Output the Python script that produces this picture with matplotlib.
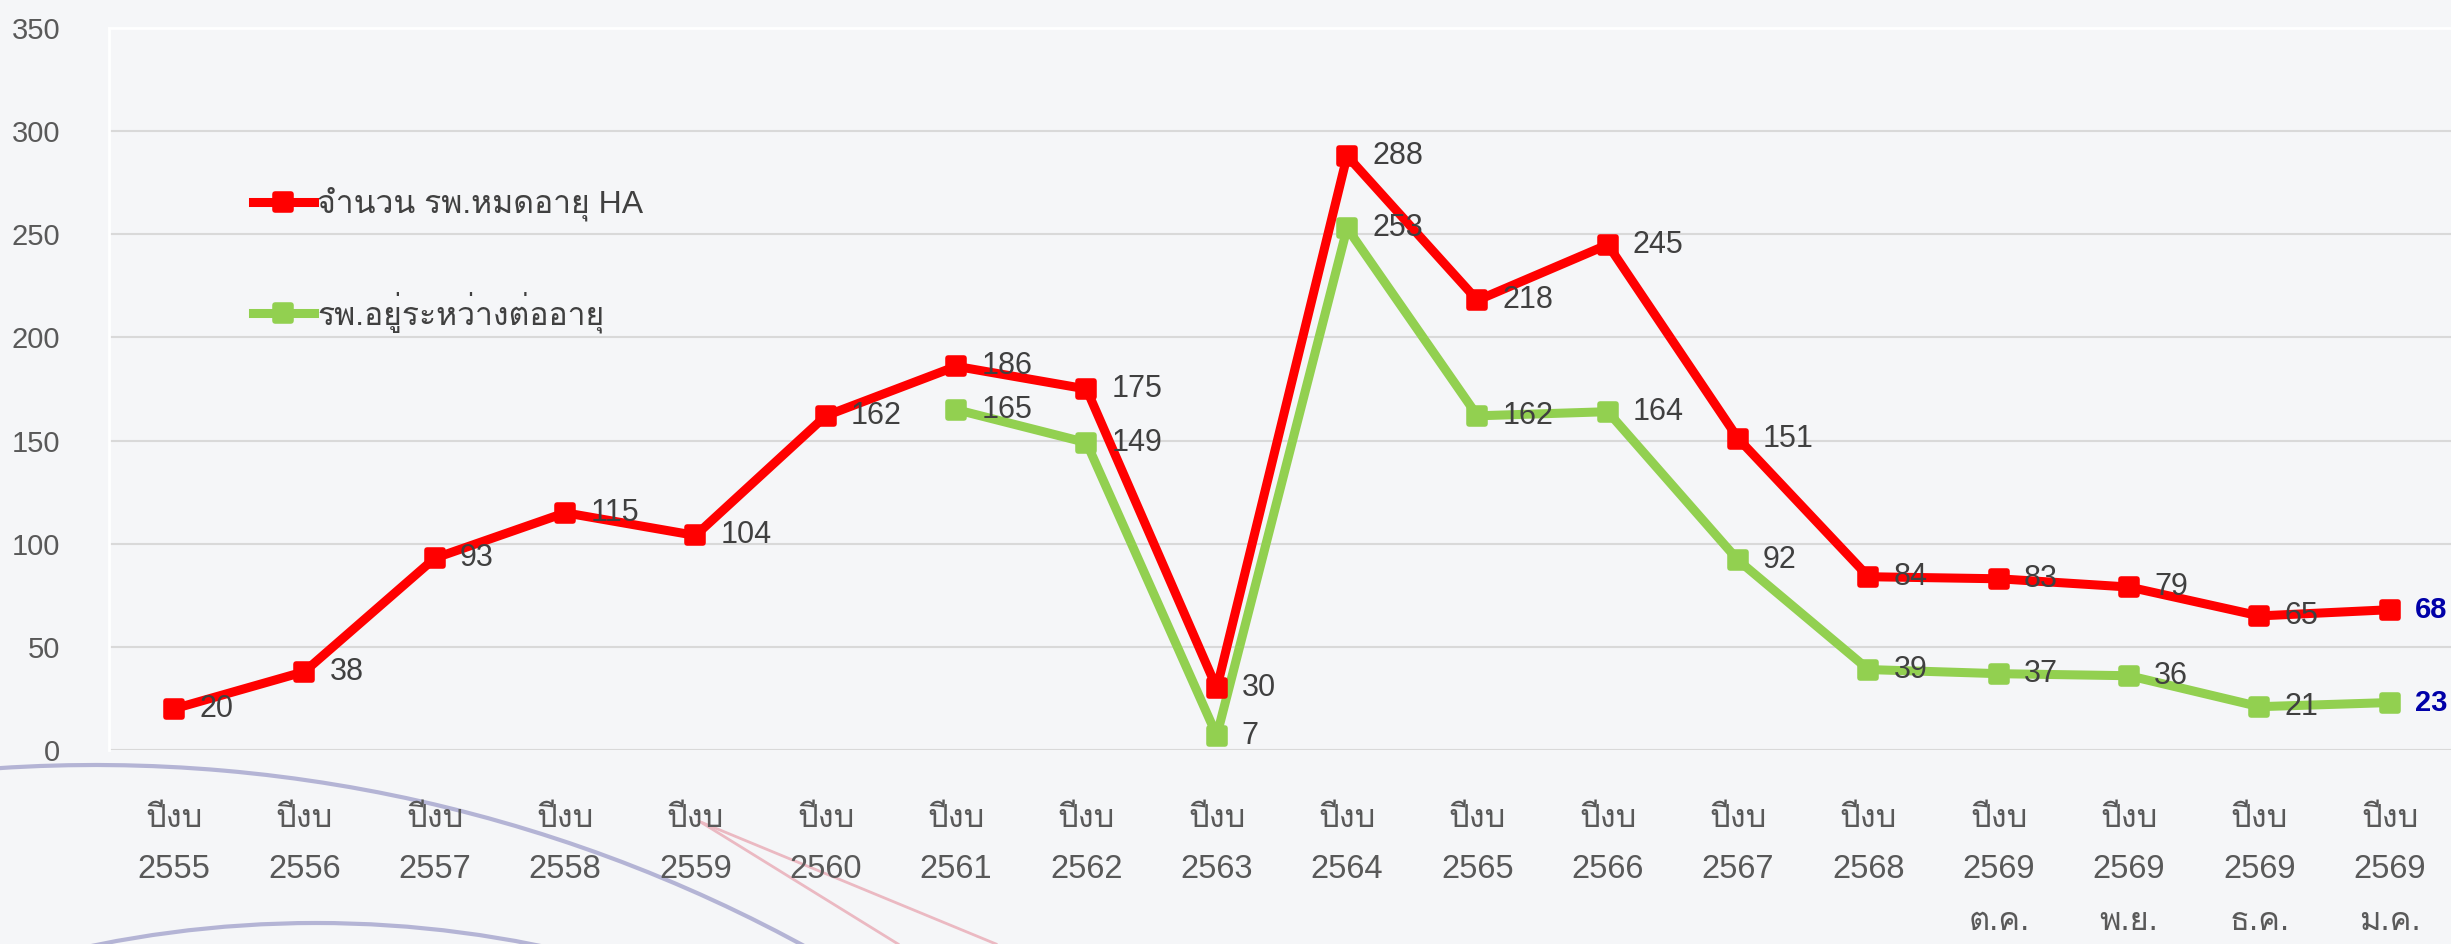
import matplotlib
matplotlib.use("Agg")
import matplotlib.pyplot as plt
from matplotlib import font_manager, ft2font
from matplotlib.markers import MarkerStyle
from matplotlib.patches import Arc
from matplotlib.lines import Line2D
from matplotlib.transforms import IdentityTransform

# ข้อมูล
years = ["2555", "2556", "2557", "2558", "2559", "2560", "2561", "2562", "2563",
         "2564", "2565", "2566", "2567", "2568", "2569", "2569", "2569", "2569"]
months = ["", "", "", "", "", "", "", "", "", "", "", "", "", "",
          "ต.ค.", "พ.ย.", "ธ.ค.", "ม.ค."]
expired_ha = [20, 38, 93, 115, 104, 162, 186, 175, 30, 288, 218, 245, 151, 84, 83, 79, 65, 68]
renewing = [None, None, None, None, None, None, 165, 149, 7, 253, 162, 164, 92, 39, 37, 36, 21, 23]
label_red = "จำนวน รพ.หมดอายุ HA"
label_green = "รพ.อยู่ระหว่างต่ออายุ"


# หา font ที่มีอักษรไทย
def find_thai_font():
    for f in font_manager.fontManager.ttflist:
        try:
            if 0x0E08 in ft2font.FT2Font(f.fname).get_charmap():
                return f.name
        except Exception:
            pass
    return None


thai = find_thai_font()
families = ["Liberation Sans"] + ([thai] if thai else []) + ["DejaVu Sans"]
plt.rcParams["font.family"] = families

bg = "#f5f6f8"
txt = "#404040"
fig = plt.figure(figsize=(24.51, 9.44), dpi=100, facecolor=bg)
ax = fig.add_axes([109 / 2451, 1 - 750 / 944, 1 - 109 / 2451, (750 - 28) / 944])
ax.set_facecolor(bg)

x = list(range(len(years)))
mk = MarkerStyle("s", joinstyle="round")
ax.plot(x, expired_ha, color="#ff0000", lw=6.5, marker=mk, ms=11, mew=4,
        mec="#ff0000", mfc="#ff0000", label=label_red, zorder=4)
gx = [i for i, v in zip(x, renewing) if v is not None]
gy = [v for v in renewing if v is not None]
ax.plot(gx, gy, color="#92d050", lw=6.5, marker=mk, ms=11, mew=4,
        mec="#92d050", mfc="#92d050", label=label_green, zorder=3)

# ป้ายค่า
for series_x, series_y in ((x, expired_ha), (gx, gy)):
    for i, v in zip(series_x, series_y):
        last = i == len(years) - 1
        ax.annotate(str(v), (i, v), xytext=(18, 0), textcoords="offset points",
                    va="center", ha="left", fontsize=22 if not last else 21,
                    color="#0000a8" if last else txt,
                    fontweight="bold" if last else "normal", zorder=5,
                    annotation_clip=False)

ax.set_ylim(0, 350)
ax.set_xlim(-0.5, 17.47)
ax.set_yticks(range(0, 351, 50))
ax.set_xticks(x)
ax.set_xticklabels(["ปีงบ\n" + y + ("\n" + m if m else "") for y, m in zip(years, months)])
for t in ax.get_xticklabels():
    t.set_linespacing(1.86)
ax.tick_params(axis="x", length=0, pad=38, labelsize=23.5, labelcolor="#595959")
ax.tick_params(axis="y", length=0, pad=35, labelsize=21, labelcolor="#595959")
ax.grid(axis="y", color="#d9d9d9", lw=1.5)
ax.set_axisbelow(True)
for s in ("right", "bottom"):
    ax.spines[s].set_visible(False)
for s in ("top", "left"):
    ax.spines[s].set_color("white")
    ax.spines[s].set_linewidth(2)

leg = ax.legend(loc="upper left", bbox_to_anchor=(0.0615, 0.78), frameon=False,
                fontsize=23, labelspacing=2.2, handlelength=1.9, handletextpad=0.1,
                borderaxespad=0, borderpad=0)
for t in leg.get_texts():
    t.set_color(txt)

# เส้นตกแต่งพื้นหลัง
for cx, cy, r, t1, t2 in ((95, 944 - 2245, 1480, 50, 120), (316, 944 - 2035, 1112, 60, 120)):
    fig.add_artist(Arc((cx, cy), 2 * r, 2 * r, theta1=t1, theta2=t2, transform=IdentityTransform(),
                       color="#a9a9cf", lw=3, alpha=0.85, zorder=-1))
fig.add_artist(Line2D([699, 898], [123, 0], transform=IdentityTransform(), color="#ebb9c2", lw=2, zorder=-1))
fig.add_artist(Line2D([703, 996], [121, 0], transform=IdentityTransform(), color="#ebb9c2", lw=2, zorder=-1))

plt.savefig("out.png", dpi=100, facecolor=bg)
